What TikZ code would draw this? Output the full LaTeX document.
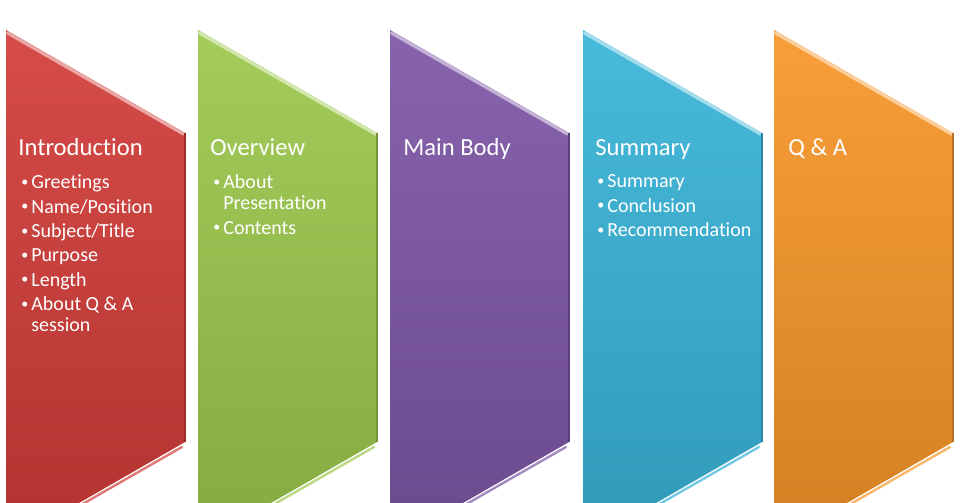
\documentclass[tikz,border=0pt]{standalone}
\usepackage{fontspec}
\setmainfont{Carlito}[Ligatures=NoCommon]
\usetikzlibrary{positioning}
\definecolor{StepRed}{RGB}{210,60,56}
\definecolor{StepGreen}{RGB}{156,200,76}
\definecolor{StepPurple}{RGB}{125,86,166}
\definecolor{StepBlue}{RGB}{56,180,216}
\definecolor{StepOrange}{RGB}{248,150,40}
\newcommand{\bul}{\makebox[5pt][l]{\raisebox{0.25ex}{\scalebox{0.7}{\textbullet}}}}
\newcommand{\cont}{\hspace*{5pt}}

\begin{document}
\begin{tikzpicture}[x=0.5pt, y=-0.5pt,
      ttl/.style={anchor=base west, text=white, inner sep=0pt,
                  font=\fontsize{12.3}{14}\selectfont},
      lst/.style={anchor=north west, align=left, text=white, inner sep=0pt,
                  font=\fontsize{10}{10.5}\selectfont}
    ]
    \useasboundingbox (0,0) rectangle (960,503);
    \clip (0,0) rectangle (960,503);
    \fill[white] (0,0) rectangle (960,503);

    % the five slanted panels
    \foreach \x/\c in {6/StepRed, 198/StepGreen, 390/StepPurple, 583/StepBlue, 774/StepOrange}{
      \shade[top color=\c!92!white, bottom color=\c!85!black]
        (\x,30) -- ++(179,103) -- ++(0,309) -- ++(-179,103) -- cycle;
      \draw[\c!45!white, line width=1.6pt, line cap=round] (\x+1.5,33) -- ++(176,101);
      \draw[\c!70!white, line width=1.2pt, line cap=round] (\x+176,447) -- ++(-150,86);
      \draw[\c!75!black, line width=0.6pt] (\x+179,133) -- ++(0,309);
    }

    \node[ttl] (intro) at (18,155)  {Introduction};
    \node[ttl] (over)  at (210,155) {Overview};
    \node[ttl] (main)  at (403,155) {Main Body};
    \node[ttl] (summ)  at (595,155) {Summary};
    \node[ttl] (qa)    at (788,155) {Q \& A};

    \node[lst] (introlist) at (21,174.5)
      {\bul Greetings\\[1.7pt]\bul Name/Position\\[1.7pt]\bul Subject/Title\\[1.7pt]
       \bul Purpose\\[1.7pt]\bul Length\\[1.7pt]\bul About Q \& A\\\cont session};
    \node[lst] (overlist) at (213,174.5)
      {\bul About\\\cont Presentation\\[1.7pt]\bul Contents};
    \node[lst] (summlist) at (597,174.5)
      {\bul Summary\\[1.7pt]\bul Conclusion\\[1.7pt]\bul Recommendation};
  \end{tikzpicture}
\end{document}
